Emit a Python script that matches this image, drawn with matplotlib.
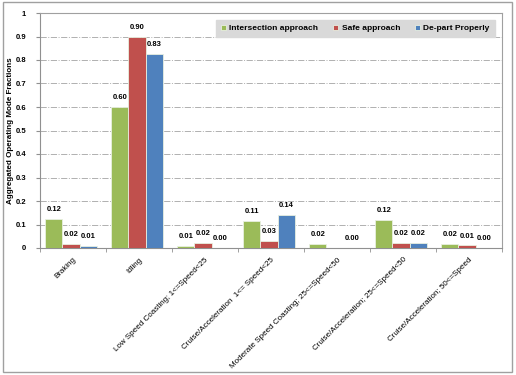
import numpy as np
import matplotlib.pyplot as plt
from matplotlib.patches import Rectangle

plt.rcParams['font.family'] = ['Liberation Sans', 'DejaVu Sans']

categories = ['Braking', 'Idling', 'Low Speed Coasting; 1<=Speed<25',
              'Cruise/Acceleration  1<= Speed<25', 'Moderate Speed Coasting; 25<=Speed<50',
              'Cruise/Acceleration; 25<=Speed<50', 'Cruise/Acceleration; 50<=Speed']
series_names = ['Intersection approach', 'Safe approach', 'De-part Properly']
intersection = [0.122, 0.600, 0.008, 0.114, 0.016, 0.118, 0.016]
safe = [0.016, 0.900, 0.020, 0.030, 0.002, 0.022, 0.011]
depart = [0.008, 0.826, 0.001, 0.140, 0.001, 0.022, 0.001]
labels_int = ['0.12', '0.60', '0.01', '0.11', '0.02', '0.12', '0.02']
labels_safe = ['0.02', '0.90', '0.02', '0.03', '', '0.02', '0.01']
labels_dep = ['0.01', '0.83', '0.00', '0.14', '0.00', '0.02', '0.00']
colors = ['#9BBB59', '#C0504D', '#4F81BD']

fig = plt.figure(figsize=(5.16, 3.75), dpi=100)
fig.patches.append(Rectangle((0.005, 0.008), 0.988, 0.986, transform=fig.transFigure,
                             fill=False, edgecolor='#A0A0A0', lw=1.0))
ax = fig.add_axes([40 / 516, 1 - 248 / 375, 462 / 516, 235 / 375])

x = np.arange(len(categories))
w = 0.26
for i, (vals, labs) in enumerate(zip([intersection, safe, depart],
                                     [labels_int, labels_safe, labels_dep])):
    pos = x + (i - 1) * w - 0.03
    ax.bar(pos, vals, w, color=colors[i], edgecolor='#E8F0E0', linewidth=0.6,
           label=series_names[i], zorder=3)
    for p, v, t in zip(pos, vals, labs):
        if t:
            ax.text(p, v + 0.025, t, ha='center', va='bottom', fontsize=5.5,
                    fontweight='bold', zorder=4)

ax.set_xlim(-0.5, len(categories) - 0.5)
ax.set_ylim(0, 1)
ax.set_yticks(np.arange(0, 1.01, 0.1))
ax.set_yticklabels(['0'] + ['%.1f' % v for v in np.arange(0.1, 0.95, 0.1)] + ['1'],
                   fontsize=5.5, fontweight='bold')
ax.set_xticks(x)
ax.set_xticklabels(categories, rotation=45, ha='right', rotation_mode='anchor',
                   fontsize=5.8)
ax.set_xticks(np.arange(-0.5, len(categories)), minor=True)
ax.tick_params(axis='x', which='major', length=0, pad=6)
ax.tick_params(axis='x', which='minor', length=3, color='#909090')
ax.tick_params(axis='y', length=3, color='#909090', pad=7)
ax.yaxis.grid(True, color='#B0B0B0', linestyle='-.', linewidth=0.7, zorder=0)
for s in ax.spines.values():
    s.set_color('#A0A0A0')
ax.spines['left'].set_color('#909090')
ax.spines['bottom'].set_color('#909090')
ax.set_ylabel('Aggregated Operating Mode Fractions', fontsize=5.8, fontweight='bold',
              labelpad=1)

leg = ax.legend(loc='upper right', ncol=3, fontsize=6, frameon=True, fancybox=False,
                handlelength=0.6, handleheight=0.6, columnspacing=1.8,
                bbox_to_anchor=(0.993, 0.99), borderpad=0.6, handletextpad=0.4)
leg.get_frame().set_facecolor('#D9D9D9')
leg.get_frame().set_edgecolor('#D9D9D9')
leg.get_frame().set_alpha(1)
for t in leg.get_texts():
    t.set_fontweight('bold')

fig.savefig('out.png', dpi=100)
